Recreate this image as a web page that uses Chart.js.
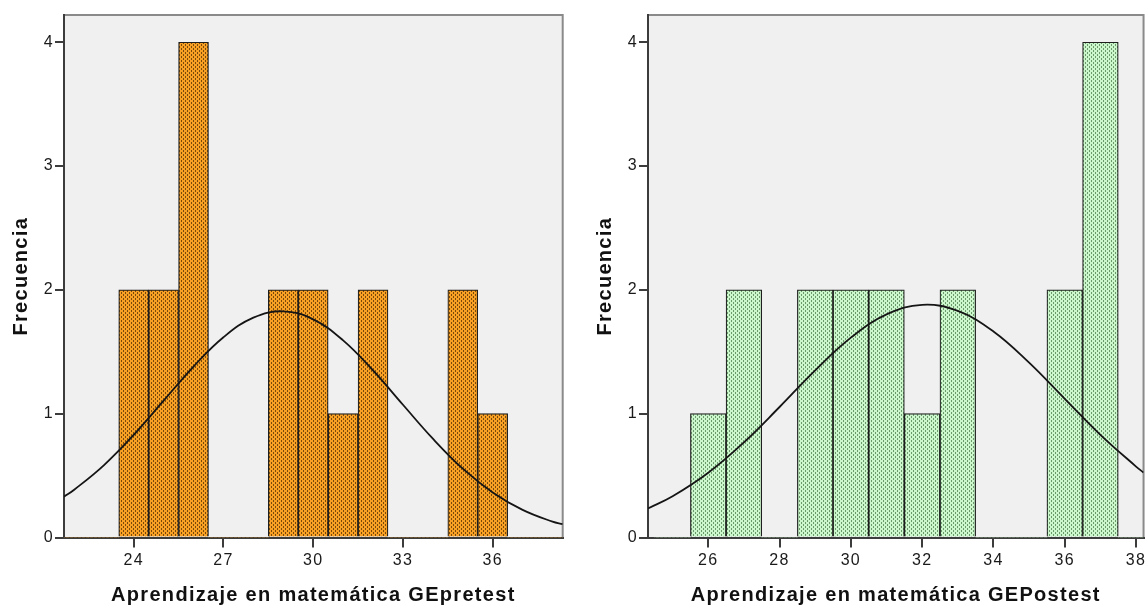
<!DOCTYPE html>
<html>
<head>
<meta charset="utf-8">
<script src="https://cdn.jsdelivr.net/npm/chart.js@4.4.0/dist/chart.umd.min.js"></script>
<style>
  body { margin: 0; background: #fff; }
  #wrap { position: relative; width: 1148px; height: 606px; }
  .box { position: absolute; top: 0; width: 574px; height: 606px; }
</style>
</head>
<body>
<div id="wrap">
  <div class="box" style="left:0"><canvas id="chart_pre" width="574" height="606"></canvas></div>
  <div class="box" style="left:574px"><canvas id="chart_post" width="574" height="606"></canvas></div>
</div>
<script>
// GE pretest: score bins and frequencies
const preScores = [22, 23, 24, 25, 26, 27, 28, 29, 30, 31, 32, 33, 34, 35, 36, 37, 38];
const preCounts = [0, 0, 2, 2, 4, 0, 0, 2, 2, 1, 2, 0, 0, 2, 1, 0, 0];
const preTicks = [24, 27, 30, 33, 36];
// normal curve
const preCurveX = [21.67, 22, 23, 24, 25, 26, 27, 28, 29, 30, 31, 32, 33, 34, 35, 36, 37, 38, 38.34];
const preCurveY = [0.33, 0.384, 0.583, 0.829, 1.105, 1.381, 1.617, 1.776, 1.827, 1.762, 1.592, 1.349, 1.072, 0.798, 0.556, 0.364, 0.223, 0.128, 0.108];

// GE postest
const postScores = [25, 26, 27, 28, 29, 30, 31, 32, 33, 34, 35, 36, 37, 38];
const postCounts = [0, 1, 2, 0, 2, 2, 2, 1, 2, 0, 0, 2, 4, 0];
const postTicks = [26, 28, 30, 32, 34, 36, 38];
const postCurveX = [24.31, 25, 26, 27, 28, 29, 30, 31, 32, 33, 34, 35, 36, 37, 38, 38.21];
const postCurveY = [0.235, 0.333, 0.523, 0.768, 1.054, 1.35, 1.614, 1.802, 1.879, 1.83, 1.664, 1.412, 1.12, 0.829, 0.573, 0.525];

const freqTicks = [0, 1, 2, 3, 4];

const FONT = "'Liberation Sans', Arial, sans-serif";

function makePattern(base, dot) {
  const c = document.createElement('canvas');
  c.width = 4; c.height = 4;
  const g = c.getContext('2d');
  g.fillStyle = base;
  g.fillRect(0, 0, 4, 4);
  g.fillStyle = dot;
  g.fillRect(1, 0, 1, 2);
  g.fillRect(3, 2, 1, 2);
  return g.createPattern(c, 'repeat');
}

// grey plot area + top/right frame
const plotFrame = {
  id: 'plotFrame',
  beforeDraw(chart) {
    const { ctx, chartArea: a } = chart;
    ctx.letterSpacing = '1.3px';
    ctx.save();
    ctx.fillStyle = '#f0f0f0';
    ctx.fillRect(a.left, a.top, a.right - a.left, a.bottom - a.top);
    ctx.strokeStyle = '#8a8a8a';
    ctx.lineWidth = 2;
    ctx.beginPath();
    ctx.moveTo(a.left, a.top);
    ctx.lineTo(a.right, a.top);
    ctx.lineTo(a.right, a.bottom);
    ctx.stroke();
    ctx.restore();
  }
};

function drawHist(id, o) {
  const ctx = document.getElementById(id).getContext('2d');
  return new Chart(ctx, {
    type: 'bar',
    data: {
      datasets: [{
        type: 'line',
        order: 0,
        data: o.curveX.map((x, i) => ({ x: x, y: o.curveY[i] })),
        borderColor: '#151515',
        borderWidth: 1.8,
        pointRadius: 0,
        tension: 0.4,
        fill: false
      }, {
        order: 1,
        data: o.scores.map((x, i) => ({ x: x, y: o.counts[i] })),
        backgroundColor: o.fill,
        borderColor: '#1e1e1e',
        borderWidth: c => (c.raw && c.raw.y > 0 ? 1.2 : 0),
        barPercentage: 1,
        categoryPercentage: 1
      }]
    },
    options: {
      responsive: false,
      animation: false,
      layout: { padding: { top: 15, right: o.padRight, left: 0, bottom: 0 } },
      plugins: { legend: { display: false }, tooltip: { enabled: false } },
      scales: {
        x: {
          type: 'linear',
          offset: false,
          min: o.xMin,
          max: o.xMax,
          afterBuildTicks: s => { s.ticks = o.ticks.map(v => ({ value: v })); },
          afterFit: s => { s.height = 68.5; },
          grid: { display: true, offset: false, drawOnChartArea: false, drawTicks: true, tickLength: 10, color: '#3c3c3c', lineWidth: 2 },
          border: { display: true, color: '#3c3c3c', width: 2 },
          ticks: { color: '#1a1a1a', font: { family: FONT, size: 16 }, padding: 3, autoSkip: false, maxRotation: 0 },
          title: {
            display: true, text: o.title, color: '#111',
            font: { family: FONT, size: 20, weight: 'bold', lineHeight: 1 },
            padding: { top: 0, bottom: 1 }
          }
        },
        y: {
          min: 0,
          max: 4.22,
          afterBuildTicks: s => { s.ticks = freqTicks.map(v => ({ value: v })); },
          afterFit: s => { s.width = o.yWidth; },
          grid: { display: true, drawOnChartArea: false, drawTicks: true, tickLength: 9, color: '#3c3c3c', lineWidth: 2 },
          border: { display: true, color: '#3c3c3c', width: 2 },
          ticks: { color: '#1a1a1a', font: { family: FONT, size: 16 }, padding: 1 },
          title: {
            display: true, text: 'Frecuencia', color: '#111',
            font: { family: FONT, size: 20, weight: 'bold', lineHeight: 1 },
            padding: { top: o.yTitlePad, bottom: 0 }
          }
        }
      }
    },
    plugins: [plotFrame]
  });
}

drawHist('chart_pre', {
  scores: preScores, counts: preCounts, ticks: preTicks,
  curveX: preCurveX, curveY: preCurveY,
  xMin: 21.67, xMax: 38.34,
  fill: makePattern('#f7a023', '#7a4a0c'),
  title: 'Aprendizaje en matemática GEpretest',
  padRight: 11.3, yWidth: 64, yTitlePad: 11
});

drawHist('chart_post', {
  scores: postScores, counts: postCounts, ticks: postTicks,
  curveX: postCurveX, curveY: postCurveY,
  xMin: 24.31, xMax: 38.21,
  fill: makePattern('#ccf7cc', '#6a9a6a'),
  title: 'Aprendizaje en matemática GEPostest',
  padRight: 2, yWidth: 74, yTitlePad: 21
});
</script>
</body>
</html>
